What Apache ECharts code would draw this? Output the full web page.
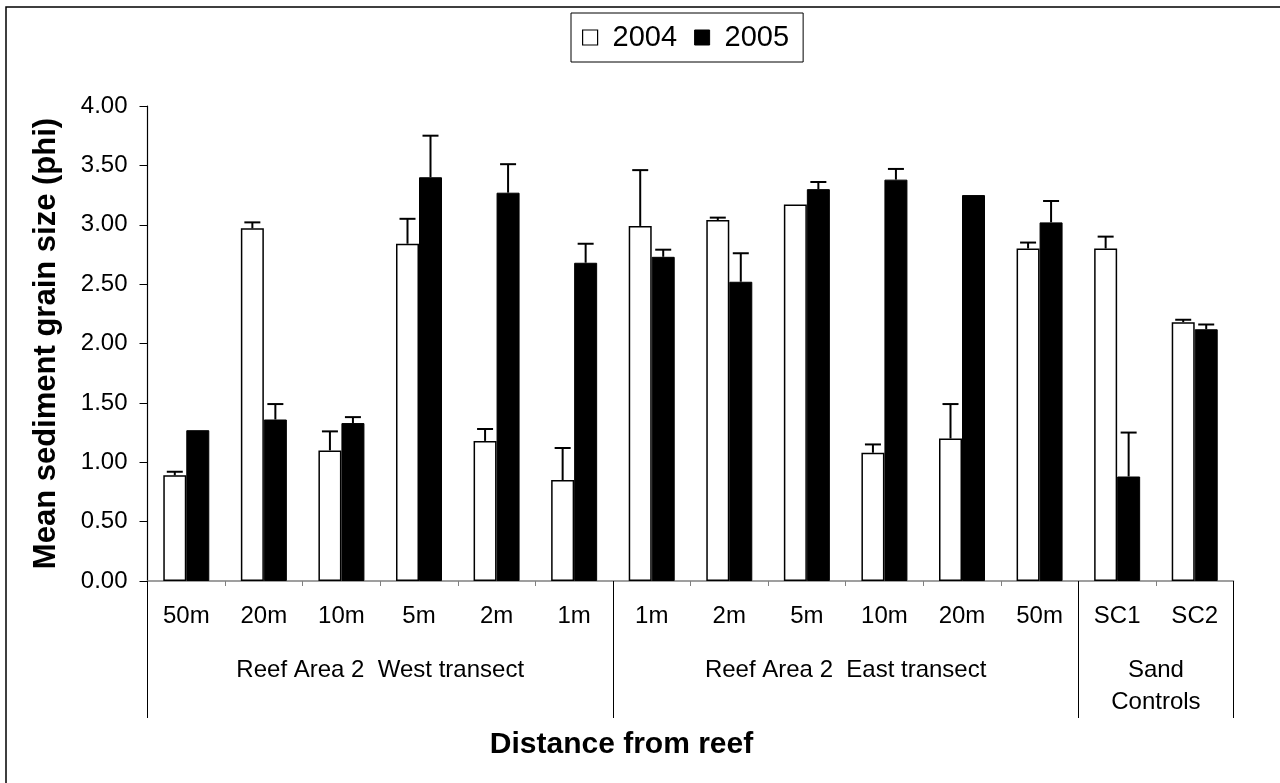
<!DOCTYPE html>
<html>
<head>
<meta charset="utf-8">
<script src="https://cdn.jsdelivr.net/npm/echarts@6/dist/echarts.min.js"></script>
<style>
html,body{margin:0;padding:0;background:#fff;}
#chart{width:1280px;height:783px;}
</style>
</head>
<body>
<div id="chart"></div>
<script>
const categories = ['50m','20m','10m','5m','2m','1m','1m','2m','5m','10m','20m','50m','SC1','SC2'];
const groupNames = ['Reef Area 2  West transect','Reef Area 2  East transect','Sand\nControls'];
const groupSizes = [6, 6, 2];
const seriesNames = ['2004', '2005'];
const v2004 = [0.89, 2.97, 1.10, 2.84, 1.18, 0.85, 2.99, 3.04, 3.17, 1.08, 1.20, 2.80, 2.80, 2.18];
const e2004 = [0.03, 0.05, 0.16, 0.21, 0.10, 0.27, 0.47, 0.02, 0.00, 0.07, 0.29, 0.05, 0.10, 0.02];
const v2005 = [1.27, 1.36, 1.33, 3.40, 3.27, 2.68, 2.73, 2.52, 3.30, 3.38, 3.25, 3.02, 0.88, 2.12];
const e2005 = [0.00, 0.13, 0.05, 0.35, 0.24, 0.16, 0.06, 0.24, 0.06, 0.09, 0.00, 0.18, 0.37, 0.04];
const yTicks = [0, 0.5, 1, 1.5, 2, 2.5, 3, 3.5, 4];

const FONT = "'Liberation Sans', Arial, sans-serif";
const BAR_W = 23;

// group boundaries / centres derived from sizes
const bounds = [0];
groupSizes.forEach(s => bounds.push(bounds[bounds.length - 1] + s));
const centers = groupSizes.map((s, i) => bounds[i] + s / 2);

function errSeries(name, vals, errs, sign) {
  return {
    type: 'custom',
    name: name + ' err',
    z: 5,
    silent: true,
    data: vals.map((v, i) => [i, v, errs[i]]),
    renderItem: function (params, api) {
      const e = api.value(2);
      if (!e) return null;
      const i = api.value(0), v = api.value(1);
      const p0 = api.coord([i, v]);
      const p1 = api.coord([i, v + e]);
      const x = p0[0] + sign * BAR_W / 2;
      const style = { stroke: '#000', lineWidth: 2 };
      return {
        type: 'group',
        children: [
          { type: 'line', shape: { x1: x, y1: p0[1], x2: x, y2: p1[1] }, style: style },
          { type: 'line', shape: { x1: x - 8, y1: p1[1], x2: x + 8, y2: p1[1] }, style: style }
        ]
      };
    }
  };
}

const chart = echarts.init(document.getElementById('chart'), null, { renderer: 'canvas' });
chart.setOption({
  backgroundColor: '#fff',
  animation: false,
  textStyle: { fontFamily: FONT, color: '#000' },
  graphic: [
    { type: 'rect', shape: { x: 6, y: 7, width: 1400, height: 900 }, style: { fill: 'none', stroke: '#000', lineWidth: 1.5 }, z: 0 }
  ],
  legend: {
    data: [
      { name: seriesNames[0], icon: 'rect', itemStyle: { color: '#fff', borderColor: '#000', borderWidth: 1.2 } },
      { name: seriesNames[1], icon: 'rect', itemStyle: { color: '#000', borderColor: '#000', borderWidth: 1 } }
    ],
    left: 571,
    top: 13,
    padding: [10, 14, 10, 11],
    itemWidth: 15,
    itemHeight: 15,
    itemGap: 17,
    borderColor: '#000',
    borderWidth: 1,
    textStyle: { fontSize: 29, fontFamily: FONT, color: '#000', padding: [0, 0, 0, 10] }
  },
  grid: { left: 147.5, right: 46.5, top: 106, bottom: 202, containLabel: false },
  xAxis: [
    {
      type: 'category',
      data: categories,
      boundaryGap: true,
      name: 'Distance from reef',
      nameLocation: 'middle',
      nameGap: 149,
      nameTextStyle: { fontSize: 30, fontWeight: 'bold', fontFamily: FONT, color: '#000', padding: [0, 138, 0, 0] },
      axisLine: { show: true, lineStyle: { color: '#808080', width: 1.5 } },
      axisTick: { show: true, interval: 0, length: 5, lineStyle: { color: '#808080', width: 1 } },
      axisLabel: { interval: 0, fontSize: 24, color: '#000', margin: 19, lineHeight: 32, fontFamily: FONT }
    },
    {
      type: 'value',
      position: 'bottom',
      min: 0,
      max: 14,
      axisLine: { show: false },
      splitLine: { show: false },
      axisTick: { show: true, customValues: bounds, length: 137, lineStyle: { color: '#000', width: 1 } },
      axisLabel: {
        show: true,
        customValues: centers,
        formatter: function (val) {
          const k = centers.indexOf(val);
          return k >= 0 ? groupNames[k] : '';
        },
        fontSize: 24, color: '#000', margin: 73, lineHeight: 32, verticalAlign: 'top', fontFamily: FONT
      }
    }
  ],
  yAxis: {
    type: 'value',
    min: yTicks[0],
    max: yTicks[yTicks.length - 1],
    interval: 0.5,
    name: 'Mean sediment grain size (phi)',
    nameLocation: 'middle',
    nameGap: 86,
    nameTextStyle: { fontSize: 31, fontWeight: 'bold', fontFamily: FONT, color: '#000' },
    axisLine: { show: true, lineStyle: { color: '#000', width: 1.2 } },
    axisTick: { show: true, length: 8, lineStyle: { color: '#000', width: 1 } },
    splitLine: { show: false },
    axisLabel: { fontSize: 24, color: '#000', margin: 20, fontFamily: FONT, formatter: v => v.toFixed(2) }
  },
  series: [
    {
      name: seriesNames[0], type: 'bar', data: v2004, barWidth: BAR_W, barGap: '0%',
      itemStyle: { color: '#fff', borderColor: '#000', borderWidth: 1.5 }
    },
    {
      name: seriesNames[1], type: 'bar', data: v2005, barWidth: BAR_W, barGap: '0%',
      itemStyle: { color: '#000', borderColor: '#000', borderWidth: 1 }
    },
    errSeries(seriesNames[0], v2004, e2004, -1),
    errSeries(seriesNames[1], v2005, e2005, 1)
  ]
});
</script>
</body>
</html>
